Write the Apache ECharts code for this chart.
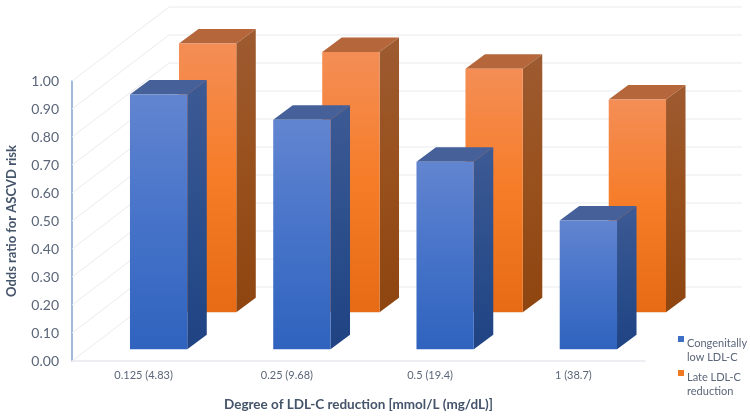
<!DOCTYPE html>
<html>
<head>
<meta charset="utf-8">
<style>html,body{margin:0;padding:0;background:#fff}#c{width:750px;height:417px}</style>
<script src="https://cdn.jsdelivr.net/npm/echarts@6/dist/echarts.min.js"></script>
</head>
<body>
<div id="c"></div>
<script>
const categories = ['0.125 (4.83)', '0.25 (9.68)', '0.5 (19.4)', '1 (38.7)'];
const congenitalValues = [0.91, 0.82, 0.67, 0.46];
const lateValues = [0.96, 0.93, 0.87, 0.76];
const gridValues = [0, 0.1, 0.2, 0.3, 0.4, 0.5, 0.6, 0.7, 0.8, 0.9, 1.0];
const congenitalName = 'Congenitally\nlow LDL-C';
const lateName = 'Late LDL-C\nreduction';

const wallDx = 97, wallDy = -74;
const barDx = 19.5, barDy = -14.5;

function grad(stops) {
  return { type: 'linear', x: 0, y: 0, x2: 0, y2: 1,
    colorStops: stops.map((c, i) => ({ offset: i / (stops.length - 1), color: c })) };
}
const palettes = {
  blue: { front: grad(['#6285d0', '#4673c9', '#2f63be']), side: grad(['#3d5a94', '#2c4f8c', '#1f4383']), top: '#46609a' },
  orange: { front: grad(['#f48e56', '#f67c27', '#e76b14']), side: grad(['#9e5b31', '#98501c', '#8e4510']), top: '#b5673b' }
};

function barRenderer(pal, offX, offY) {
  return function (params, api) {
    const i = api.value(0), v = api.value(1);
    const base = api.coord([i, 0]), top = api.coord([i, v]);
    const w = api.size([1, 0])[0] * 0.4;
    const l = base[0] - w / 2 + offX, r = l + w;
    const yb = base[1] + offY, yt = top[1] + offY;
    const poly = (pts, fill) => ({ type: 'polygon', shape: { points: pts }, style: { fill: fill, stroke: null } });
    return { type: 'group', children: [
      poly([[l, yt], [r, yt], [r + barDx, yt + barDy], [l + barDx, yt + barDy]], pal.top),
      poly([[r, yt], [r + barDx, yt + barDy], [r + barDx, yb + barDy], [r, yb]], pal.side),
      poly([[l, yt], [r, yt], [r, yb], [l, yb]], pal.front)
    ] };
  };
}

function wallRenderer(params, api) {
  const cs = params.coordSys;
  const y = api.coord([0, api.value(1)])[1];
  const style = { stroke: '#e9ebef', lineWidth: 1, fill: null };
  return { type: 'group', children: [
    { type: 'line', shape: { x1: cs.x, y1: y, x2: cs.x + wallDx, y2: y + wallDy }, style: style },
    { type: 'line', shape: { x1: cs.x + wallDx, y1: y + wallDy, x2: cs.x + cs.width + wallDx, y2: y + wallDy }, style: style }
  ] };
}

const textColor = '#5b6679', titleColor = '#44546a';
const chart = echarts.init(document.getElementById('c'));
chart.setOption({
  animation: false,
  backgroundColor: '#fff',
  grid: { left: 72, top: 81, width: 573, height: 280, outerBoundsMode: 'none' },
  legend: {
    left: 678, top: 336, padding: 0, orient: 'vertical', itemGap: 6, itemWidth: 6, itemHeight: 28,
    icon: 'path://M0 0H6V6H0ZM0 28H6',
    selectedMode: false,
    data: [congenitalName, lateName],
    itemStyle: { borderWidth: 0 },
    textStyle: { fontFamily: 'Lato', fontSize: 11, color: textColor, lineHeight: 14, padding: [0, 0, 0, -2] }
  },
  xAxis: {
    type: 'category', data: categories,
    axisTick: { show: false },
    axisLine: { lineStyle: { color: '#e8e9ed', width: 1.5 } },
    axisLabel: { fontFamily: 'Lato', fontSize: 11, color: textColor, margin: 9 },
    name: 'Degree of LDL-C reduction [mmol/L (mg/dL)]', nameLocation: 'middle', nameGap: 37,
    nameTextStyle: { fontFamily: 'Lato', fontSize: 13.5, fontWeight: 'bold', color: titleColor }
  },
  yAxis: {
    type: 'value', min: 0, max: 1, interval: 0.1,
    splitLine: { show: false },
    axisTick: { show: false },
    axisLine: { show: true, lineStyle: { color: '#7fa3cf', width: 1.5 } },
    axisLabel: { fontFamily: 'Lato', fontSize: 14, color: textColor, margin: 13, formatter: v => v.toFixed(2) },
    name: 'Odds ratio for ASCVD risk', nameLocation: 'middle', nameGap: 54,
    nameTextStyle: { fontFamily: 'Lato', fontSize: 13, fontWeight: 'bold', color: titleColor }
  },
  series: [
    { type: 'custom', name: 'wall', silent: true, clip: false, z: 1, renderItem: wallRenderer,
      encode: { x: 0, y: 1 }, data: gridValues.map(v => [0, v]) },
    { type: 'custom', name: lateName, z: 2, clip: false, itemStyle: { color: '#f07a22' },
      renderItem: barRenderer(palettes.orange, 49 + 15, -11.7 - 37),
      encode: { x: 0, y: 1 }, data: lateValues.map((v, i) => [i, v]) },
    { type: 'custom', name: congenitalName, z: 3, clip: false, itemStyle: { color: '#3f6fc4' },
      renderItem: barRenderer(palettes.blue, 15, -11.7),
      encode: { x: 0, y: 1 }, data: congenitalValues.map((v, i) => [i, v]) }
  ]
});
</script>
</body>
</html>
